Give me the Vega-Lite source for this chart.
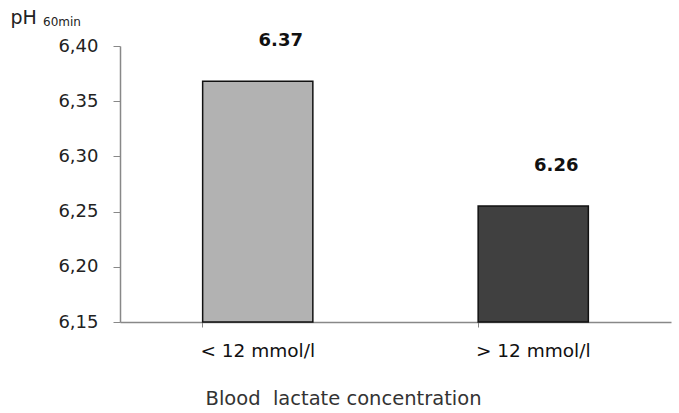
{
  "$schema": "https://vega.github.io/schema/vega-lite/v6.json",
  "width": 551,
  "height": 276,
  "autosize": {"type": "none"},
  "padding": {"left": 120, "top": 46, "right": 8, "bottom": 91},
  "background": "white",
  "title": {"text": "60min", "anchor": "start", "frame": "group", "dx": -77, "dy": 30, "fontSize": 12, "font": "DejaVu Sans", "fontWeight": "normal", "color": "#222", "baseline": "middle"},
  "data": {"values": [
    {"group": "< 12 mmol/l", "ph": 6.368, "label": "6.37"},
    {"group": "> 12 mmol/l", "ph": 6.255, "label": "6.26"}
  ]},
  "encoding": {
    "x": {"field": "group", "type": "nominal", "sort": null,
      "scale": {"paddingInner": 0.6, "paddingOuter": 0.3},
      "axis": {"title": "Blood\u00a0 lactate concentration", "labelAngle": 0, "labelFont": "DejaVu Sans", "labelFontSize": 18.5, "labelColor": "#111", "labelPadding": 14,
        "bandPosition": 0, "tickSize": 5, "tickColor": "#888", "domainColor": "#888", "domainWidth": 1.5,
        "titleFont": "DejaVu Sans", "titleFontSize": 19.5, "titleFontWeight": "normal", "titleColor": "#333",
        "titleX": 223, "titleY": 76, "titleAlign": "center", "titleBaseline": "middle"}},
    "y": {"field": "ph", "type": "quantitative",
      "scale": {"domain": [6.15, 6.40], "zero": false, "nice": false},
      "axis": {"title": "pH", "values": [6.15, 6.2, 6.25, 6.3, 6.35, 6.4], "labelExpr": "replace(format(datum.value, '.2f'), '.', ',')",
        "grid": false, "tickSize": 7, "tickColor": "#888", "domainColor": "#888", "domainWidth": 1.5, "labelPadding": 15,
        "labelFont": "DejaVu Sans", "labelFontSize": 18, "labelColor": "#222",
        "titleFont": "DejaVu Sans", "titleFontSize": 19, "titleFontWeight": "normal", "titleColor": "#222", "titleAngle": 0,
        "titleX": -110, "titleY": -29, "titleAlign": "left", "titleBaseline": "middle"}}
  },
  "layer": [
    {"mark": {"type": "bar", "stroke": "#111", "strokeWidth": 1.5},
     "encoding": {"y2": {"datum": 6.15}, "color": {"field": "group", "type": "nominal", "legend": null, "scale": {"range": ["#b2b2b2", "#404040"]}}}},
    {"mark": {"type": "text", "dx": 23, "dy": -31, "baseline": "bottom", "font": "DejaVu Sans", "fontWeight": "bold", "fontSize": 18, "color": "#111"},
     "encoding": {"text": {"field": "label"}}}
  ],
  "config": {"view": {"stroke": null}}
}
